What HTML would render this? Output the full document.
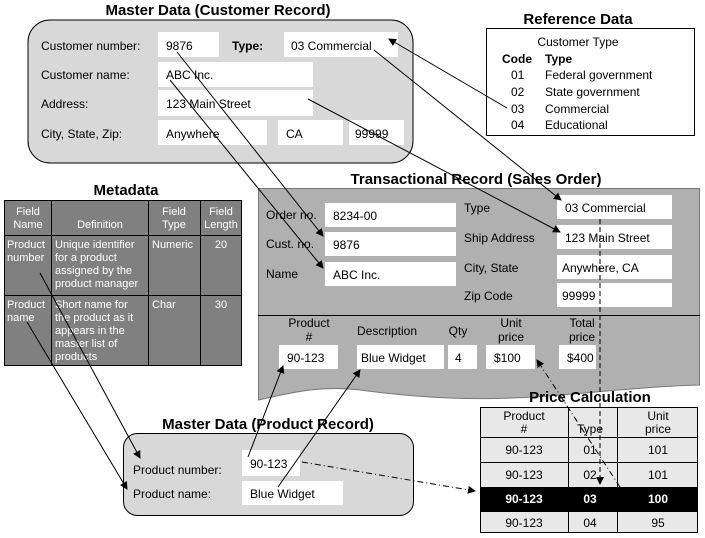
<!DOCTYPE html>
<html><head><meta charset="utf-8"><style>body{margin:0;background:#fff}svg{display:block}text{font-family:"Liberation Sans",sans-serif}</style></head><body>
<svg width="705" height="538" viewBox="0 0 705 538" xmlns="http://www.w3.org/2000/svg">
<defs><marker id="a" markerWidth="8" markerHeight="8" refX="7" refY="4" orient="auto" markerUnits="userSpaceOnUse"><path d="M0,0 L8,4 L0,8z" fill="#000"/></marker></defs>
<g font-size="12">
<text x="218" y="15" font-size="15" font-weight="bold" text-anchor="middle">Master Data (Customer Record)</text>
<rect x="28" y="20" width="385" height="143" rx="22" fill="#d8d8d8" stroke="#000"/>
<g fill="#fff"><rect x="158" y="32" width="61" height="25"/><rect x="284" y="32" width="114" height="25"/><rect x="158" y="62" width="155" height="25"/><rect x="158" y="90" width="155" height="26"/><rect x="158" y="120" width="109" height="25"/><rect x="278" y="120" width="65" height="25"/><rect x="349" y="120" width="55" height="25"/></g>
<text x="41" y="50">Customer number:</text><text x="41" y="79">Customer name:</text><text x="41" y="108">Address:</text><text x="41" y="138">City, State, Zip:</text>
<text x="166" y="50">9876</text><text x="232" y="50" font-weight="bold">Type:</text><text x="291" y="50">03 Commercial</text><text x="166" y="79">ABC Inc.</text><text x="166" y="108">123 Main Street</text><text x="166" y="138">Anywhere</text><text x="286" y="138">CA</text><text x="355" y="138">99999</text>
<text x="578" y="24" font-size="15" font-weight="bold" text-anchor="middle">Reference Data</text>
<rect x="486.5" y="28.5" width="208" height="107" fill="#fff" stroke="#000"/>
<text x="578" y="46" text-anchor="middle">Customer Type</text>
<text x="502" y="63" font-weight="bold">Code</text><text x="545" y="63" font-weight="bold">Type</text>
<text x="511" y="79">01</text><text x="545" y="79">Federal government</text>
<text x="511" y="96">02</text><text x="545" y="96">State government</text>
<text x="511" y="113">03</text><text x="545" y="113">Commercial</text>
<text x="511" y="129">04</text><text x="545" y="129">Educational</text>
<text x="126" y="195" font-size="15" font-weight="bold" text-anchor="middle">Metadata</text>
<rect x="4.5" y="200.5" width="237" height="165" fill="#808080" stroke="#000"/>
<path d="M51.5 200v166M148.5 200v166M200.5 200v166M4 235.5h238M4 295.5h238" stroke="#000"/>
<g fill="#fff" font-size="11"><text x="28" y="215" text-anchor="middle">Field</text><text x="28" y="228" text-anchor="middle">Name</text><text x="100" y="228" text-anchor="middle">Definition</text><text x="174" y="215" text-anchor="middle">Field</text><text x="174" y="228" text-anchor="middle">Type</text><text x="221" y="215" text-anchor="middle">Field</text><text x="221" y="228" text-anchor="middle">Length</text>
<text x="7" y="248">Product</text><text x="7" y="261">number</text><text x="55" y="248">Unique identifier</text><text x="55" y="261">for a product</text><text x="55" y="274">assigned by the</text><text x="55" y="287">product manager</text><text x="152" y="248">Numeric</text><text x="221" y="248" text-anchor="middle">20</text>
<text x="7" y="308">Product</text><text x="7" y="321">name</text><text x="55" y="308">Short name for</text><text x="55" y="321">the product as it</text><text x="55" y="334">appears in the</text><text x="55" y="347">master list of</text><text x="55" y="360">products</text><text x="152" y="308">Char</text><text x="221" y="308" text-anchor="middle">30</text></g>
<text x="476" y="184" font-size="15" font-weight="bold" text-anchor="middle">Transactional Record (Sales Order)</text>
<path d="M258.5 188.5 H699.5 V385 C660 386 620 390 560 395 C480 402 420 398 360 390 C320 385 290 393 258.5 400 Z" fill="#b0b0b0" stroke="#777"/>
<line x1="258" y1="315.5" x2="700" y2="315.5" stroke="#000"/>
<g fill="#fff"><rect x="325" y="203" width="131" height="24"/><rect x="325" y="232" width="131" height="24"/><rect x="325" y="262" width="131" height="24"/><rect x="557" y="195" width="115" height="24"/><rect x="557" y="225" width="115" height="24"/><rect x="557" y="255" width="115" height="24"/><rect x="557" y="283" width="115" height="24"/>
<rect x="279" y="345" width="59" height="24"/><rect x="357" y="345" width="87" height="24"/><rect x="448" y="345" width="29" height="24"/><rect x="486" y="345" width="49" height="24"/><rect x="559" y="345" width="37" height="24"/></g>
<text x="266" y="219">Order no.</text><text x="266" y="248">Cust. no.</text><text x="266" y="278">Name</text>
<text x="333" y="220">8234-00</text><text x="333" y="249">9876</text><text x="333" y="279">ABC Inc.</text>
<text x="464" y="212">Type</text><text x="464" y="242">Ship Address</text><text x="464" y="272">City, State</text><text x="464" y="300">Zip Code</text>
<text x="565" y="212">03 Commercial</text><text x="565" y="242">123 Main Street</text><text x="562" y="272">Anywhere, CA</text><text x="562" y="300">99999</text>
<text x="309" y="327" text-anchor="middle">Product</text><text x="309" y="341" text-anchor="middle">#</text><text x="387" y="335" text-anchor="middle">Description</text><text x="458" y="335" text-anchor="middle">Qty</text><text x="511" y="327" text-anchor="middle">Unit</text><text x="511" y="341" text-anchor="middle">price</text><text x="582" y="327" text-anchor="middle">Total</text><text x="582" y="341" text-anchor="middle">price</text>
<text x="287" y="362">90-123</text><text x="361" y="362">Blue Widget</text><text x="455" y="362">4</text><text x="494" y="362">$100</text><text x="567" y="362">$400</text>
<text x="590" y="402" font-size="15" font-weight="bold" text-anchor="middle">Price Calculation</text>
<rect x="480.5" y="407.5" width="217" height="125" fill="#e8e8e8" stroke="#000"/>
<rect x="480" y="487" width="218" height="24" fill="#000"/>
<path d="M568.5 407v126M617.5 407v126M480 437.5h218M480 462.5h218M480 511.5h218" stroke="#000"/>
<g text-anchor="middle"><text x="524" y="420">Product</text><text x="524" y="433">#</text><text x="590" y="433">Type</text><text x="658" y="420">Unit</text><text x="658" y="433">price</text>
<text x="524" y="454">90-123</text><text x="590" y="454">01</text><text x="658" y="454">101</text>
<text x="524" y="479">90-123</text><text x="590" y="479">02</text><text x="658" y="479">101</text>
<g fill="#fff" font-weight="bold"><text x="524" y="503">90-123</text><text x="590" y="503">03</text><text x="658" y="503">100</text></g>
<text x="524" y="527">90-123</text><text x="590" y="527">04</text><text x="658" y="527">95</text></g>
<text x="268" y="429" font-size="15" font-weight="bold" text-anchor="middle">Master Data (Product Record)</text>
<rect x="123.5" y="433.5" width="290" height="82" rx="14" fill="#d8d8d8" stroke="#000"/>
<rect x="242" y="450" width="58" height="26" fill="#fff"/><rect x="242" y="481" width="101" height="24" fill="#fff"/>
<text x="133" y="474">Product number:</text><text x="133" y="498">Product name:</text><text x="250" y="468">90-123</text><text x="250" y="498">Blue Widget</text>
</g>
<g stroke="#000" stroke-width="1" fill="none">
<line x1="507" y1="108" x2="389" y2="39" marker-end="url(#a)"/>
<line x1="374" y1="50" x2="561" y2="200" marker-end="url(#a)"/>
<line x1="308" y1="99" x2="560" y2="232" marker-end="url(#a)"/>
<line x1="177" y1="52" x2="323" y2="236" marker-end="url(#a)"/>
<line x1="170" y1="80" x2="323" y2="268" marker-end="url(#a)"/>
<line x1="40" y1="273" x2="140" y2="458" marker-end="url(#a)"/>
<line x1="27" y1="322" x2="127" y2="489" marker-end="url(#a)"/>
<line x1="248" y1="457" x2="283" y2="366" marker-end="url(#a)"/>
<line x1="278" y1="487" x2="360" y2="370" marker-end="url(#a)"/>
<line x1="302" y1="462" x2="475" y2="491" stroke-dasharray="6,3,1,3" marker-end="url(#a)"/>
<line x1="620" y1="487" x2="537" y2="360" stroke-dasharray="6,3,1,3" marker-end="url(#a)"/>
<line x1="600" y1="219" x2="600" y2="484" stroke-dasharray="5,3" marker-end="url(#a)"/>
</g>
</svg>
</body></html>
